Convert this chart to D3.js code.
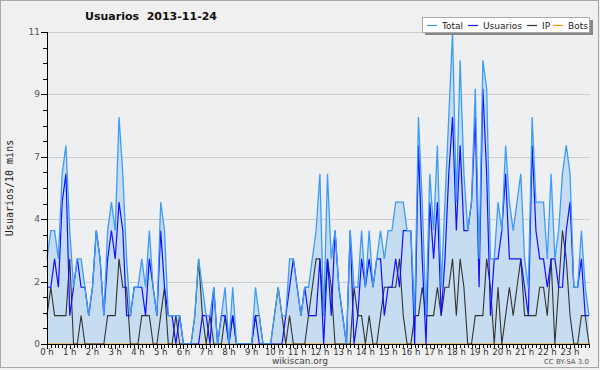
<!DOCTYPE html>
<html>
<head>
<meta charset="utf-8">
<script src="https://cdn.jsdelivr.net/npm/d3@7"></script>
<style>
  body { margin: 0; background: #f0f0f0; }
  svg { display: block; font-family: "DejaVu Sans", sans-serif; }
</style>
</head>
<body>
<svg id="chart" width="600" height="370"></svg>
<script>
// 10-minute slots, 2013-11-24 (144 per day)
const hours = d3.range(0, 24).map(h => h + " h");

const total = [
  3, 4, 4, 3, 6, 7, 4, 2, 3, 3,
  2, 1, 2, 4, 3, 1, 4, 5, 4, 8,
  6, 3, 1, 2, 2, 3, 2, 4, 2, 1,
  5, 4, 1, 1, 1, 1, 0, 0, 0, 1,
  3, 2, 1, 1, 2, 0, 1, 2, 0, 2,
  0, 0, 0, 0, 0, 2, 1, 0, 0, 0,
  1, 2, 1, 1, 3, 3, 2, 1, 2, 2,
  3, 4, 6, 1, 6, 3, 4, 2, 1, 0,
  4, 2, 2, 4, 2, 4, 2, 3, 4, 3,
  4, 4, 5, 5, 5, 4, 4, 1, 8, 5,
  1, 6, 4, 7, 2, 5, 8, 11, 5, 10,
  6, 4, 5, 9, 3, 10, 9, 3, 3, 5,
  4, 7, 5, 4, 5, 6, 3, 2, 8, 5,
  5, 5, 3, 6, 3, 4, 6, 7, 6, 2,
  2, 4, 2, 1
];

const usuarios = [
  2, 2, 3, 2, 5, 6, 1, 2, 3, 2,
  2, 1, 2, 4, 3, 1, 3, 4, 3, 5,
  4, 1, 1, 2, 2, 2, 1, 3, 2, 1,
  4, 2, 1, 1, 0, 1, 0, 0, 0, 0,
  0, 1, 1, 0, 2, 0, 1, 1, 0, 1,
  0, 0, 0, 0, 0, 1, 0, 0, 0, 0,
  0, 0, 0, 1, 2, 3, 2, 1, 2, 1,
  1, 1, 3, 0, 3, 1, 4, 2, 1, 0,
  4, 0, 1, 3, 2, 3, 2, 3, 3, 1,
  2, 2, 3, 2, 4, 4, 4, 0, 7, 3,
  0, 5, 3, 5, 1, 3, 6, 8, 4, 7,
  4, 4, 5, 8, 2, 9, 6, 1, 3, 3,
  4, 6, 3, 3, 3, 3, 2, 1, 7, 4,
  3, 3, 2, 3, 3, 2, 2, 4, 5, 2,
  2, 3, 1, 1
];

const ip = [
  1, 2, 1, 1, 1, 1, 3, 0, 0, 1,
  0, 0, 0, 0, 0, 0, 1, 1, 1, 3,
  2, 2, 0, 0, 0, 1, 1, 1, 0, 0,
  1, 2, 0, 0, 1, 0, 0, 0, 0, 1,
  3, 1, 0, 1, 0, 0, 0, 1, 0, 1,
  0, 0, 0, 0, 0, 1, 1, 0, 0, 0,
  1, 2, 1, 0, 1, 0, 0, 0, 0, 1,
  2, 3, 3, 1, 3, 2, 0, 0, 0, 0,
  0, 2, 1, 1, 0, 1, 0, 0, 1, 2,
  2, 2, 2, 3, 1, 0, 0, 1, 1, 2,
  1, 1, 1, 2, 1, 2, 2, 3, 1, 3,
  2, 0, 0, 1, 1, 1, 3, 2, 0, 2,
  0, 1, 2, 1, 2, 3, 1, 1, 1, 1,
  2, 2, 1, 3, 0, 2, 4, 3, 1, 0,
  0, 1, 1, 0
];

const bots = d3.range(144).map(() => 0);

const svg = d3.select("#chart");
const W = 600, H = 370;
const plot = { left: 47, right: 589, top: 32, bottom: 344 };

const x = d3.scaleLinear().domain([0, 143]).range([plot.left, plot.right]);
const y = d3.scaleLinear().domain([0, 11]).range([plot.bottom, plot.top]);

// background + frame
svg.append("rect").attr("x", 0.5).attr("y", 0.5).attr("width", W - 2).attr("height", H - 3)
  .attr("fill", "#f0f0f0").attr("stroke", "#a8a8a8");
svg.append("rect").attr("x", plot.left).attr("y", plot.top)
  .attr("width", plot.right - plot.left).attr("height", plot.bottom - plot.top)
  .attr("fill", "#eeeff1");

// grid
const yTicks = d3.range(0, 6).map(k => k * 11 / 5);
svg.append("g").selectAll("line").data(yTicks.slice(1)).join("line")
  .attr("x1", plot.left).attr("x2", plot.right + 1)
  .attr("y1", d => Math.round(y(d)) + 0.5).attr("y2", d => Math.round(y(d)) + 0.5)
  .attr("stroke", "#cccccc");

// series
const line = d3.line().x((d, i) => x(i)).y(d => y(d));
const area = d3.area().x((d, i) => x(i)).y0(y(0)).y1(d => y(d));

svg.append("path").datum(total).attr("d", area).attr("fill", "#c6dcf0");
svg.append("path").datum(bots).attr("d", line).attr("fill", "none").attr("stroke", "#ff9900").attr("stroke-width", 1.2);
svg.append("path").datum(ip).attr("d", line).attr("fill", "none").attr("stroke", "#333333").attr("stroke-width", 1.1);
svg.append("path").datum(usuarios).attr("d", line).attr("fill", "none").attr("stroke", "#1010ff").attr("stroke-width", 1.2);
svg.append("path").datum(total).attr("d", line).attr("fill", "none").attr("stroke", "#3d9df5").attr("stroke-width", 1.3);

// y axis
const yAxis = svg.append("g");
yAxis.append("line").attr("x1", plot.left + 0.5).attr("x2", plot.left + 0.5)
  .attr("y1", plot.top).attr("y2", plot.bottom).attr("stroke", "#000");
yAxis.selectAll(".minor").data(d3.range(0, 21).map(k => k * 11 / 20)).join("line")
  .attr("x1", d => yTicks.some(t => Math.abs(t - d) < 1e-6) ? plot.left - 6 : plot.left - 4)
  .attr("x2", plot.left)
  .attr("y1", d => Math.round(y(d)) + 0.5).attr("y2", d => Math.round(y(d)) + 0.5)
  .attr("stroke", "#000");
yAxis.selectAll("text").data(yTicks).join("text")
  .attr("x", plot.left - 7).attr("y", d => y(d) + 3)
  .attr("text-anchor", "end").attr("font-size", 9).attr("fill", "#555")
  .text(d => Math.round(d));

// x axis
const xAxis = svg.append("g");
xAxis.append("line").attr("x1", plot.left).attr("x2", plot.right + 1)
  .attr("y1", plot.bottom + 0.5).attr("y2", plot.bottom + 0.5).attr("stroke", "#000");
xAxis.selectAll(".tick").data(d3.range(0, 144)).join("line")
  .attr("x1", d => Math.round(x(d)) + 0.5).attr("x2", d => Math.round(x(d)) + 0.5)
  .attr("y1", plot.bottom).attr("y2", d => d % 6 === 0 ? plot.bottom + 5 : plot.bottom + 4)
  .attr("stroke", "#000");
xAxis.selectAll("text").data(hours).join("text")
  .attr("x", (d, i) => x(i * 6)).attr("y", plot.bottom + 11)
  .attr("text-anchor", "middle").attr("font-size", 8.5).attr("fill", "#333")
  .text(d => d);

// titles
svg.append("text").attr("x", 151).attr("y", 20).attr("text-anchor", "middle")
  .attr("font-size", 11).attr("font-weight", "bold").attr("fill", "#111")
  .attr("xml:space", "preserve").text("Usuarios  2013-11-24");
svg.append("text").attr("transform", "translate(13," + ((plot.top + plot.bottom) / 2) + ") rotate(-90)")
  .attr("text-anchor", "middle").attr("font-family", "DejaVu Sans Mono").attr("font-size", 10).attr("fill", "#222")
  .text("Usuarios/10 mins");
svg.append("text").attr("x", 300).attr("y", 364).attr("text-anchor", "middle")
  .attr("font-size", 9).attr("fill", "#444").text("wikiscan.org");
svg.append("text").attr("x", 589).attr("y", 364).attr("text-anchor", "end")
  .attr("font-size", 7).attr("fill", "#555").text("CC BY-SA 3.0");

// legend
const legendItems = [
  { name: "Total", color: "#3d9df5", x: 427 },
  { name: "Usuarios", color: "#1010ff", x: 468 },
  { name: "IP", color: "#333333", x: 527 },
  { name: "Bots", color: "#ff9900", x: 553 }
];
const legend = svg.append("g");
legend.append("rect").attr("x", 425).attr("y", 20).attr("width", 168).attr("height", 15).attr("fill", "#888");
legend.append("rect").attr("x", 422.5).attr("y", 17.5).attr("width", 167).attr("height", 15)
  .attr("fill", "#fff").attr("stroke", "#aaa");
const li = legend.selectAll(".item").data(legendItems).join("g");
li.append("line").attr("x1", d => d.x).attr("x2", d => d.x + 10).attr("y1", 25.5).attr("y2", 25.5)
  .attr("stroke", d => d.color).attr("stroke-width", 1.2);
li.append("text").attr("x", d => d.x + 15).attr("y", 29).attr("font-size", 9).attr("fill", "#222")
  .text(d => d.name);
</script>
</body>
</html>
